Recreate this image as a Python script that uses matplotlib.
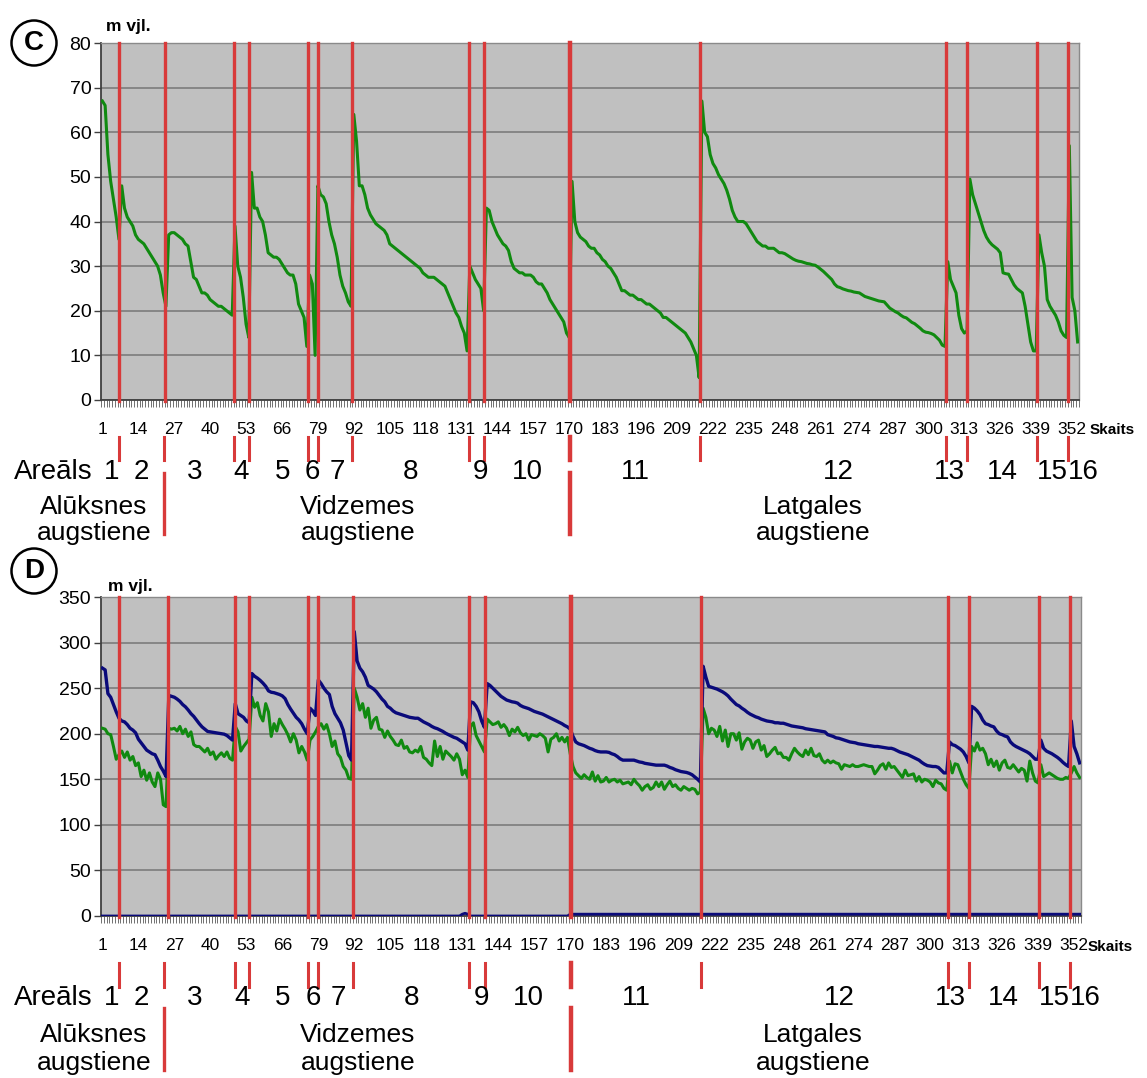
import numpy as np
import matplotlib
matplotlib.use("Agg")
import matplotlib.pyplot as plt
from matplotlib import font_manager
from matplotlib.patches import Ellipse
from matplotlib.transforms import blended_transform_factory

# ---------------------------------------------------------------- data
# Profile points are numbered 1..354 ("Skaits"); areas are separated by red lines.
N_POINTS = 354
TICK_LABELS = [str(v) for v in range(1, 353, 13)]

# Panel C: relative height (m vjl.) per point
C_HEIGHT = [
    67, 66, 55, 49, 45, 41, 36,
    48, 43, 41, 40, 39, 37, 36, 35.5, 35, 34, 33, 32, 31, 30, 28, 24, 21,
    37, 37.5, 37.5, 37, 36.5, 36, 35, 34.5, 31, 27.5, 27, 25.5, 24, 24, 23.5, 22.5,
    22, 21.5, 21, 21, 20.5, 20, 19.5, 19,
    39, 30, 27.5, 23, 17, 14,
    51, 43, 43, 41, 40, 37, 33, 32.5, 32, 32, 31.5, 30.5, 29.5, 28.5, 28, 28, 26,
    21.5, 20, 18.5, 12,
    28, 26, 10,
    48, 46, 45.5, 44, 40, 37, 35, 32, 28, 25.5, 24, 22, 21,
    64, 58, 48, 48, 46, 43, 41.5, 40.5, 39.5, 39,
    38.5, 38, 37, 35, 34.5, 34, 33.5, 33, 32.5, 32,
    31.5, 31, 30.5, 30, 29.5, 28.5, 28, 27.5, 27.5, 27.5,
    27, 26.5, 26, 25.5, 24, 22.5, 21, 19.5, 18.5, 16.5,
    15, 11,
    30, 28.5, 27, 26, 25, 20,
    43, 42.5, 40, 38.5, 37, 36, 35, 34.5, 33.5, 31,
    29.5, 29, 28.5, 28.5, 28, 28, 28, 27.5, 26.5, 26,
    26, 25, 24, 22.5, 21.5, 20.5, 19.5, 18.5, 17.5, 15, 14,
    49, 40, 37.5, 36.5, 36, 35.5, 34.5, 34, 34, 33,
    32.5, 31.5, 31, 30, 29.5, 28.5, 27.5, 26, 24.5, 24.5,
    24, 23.5, 23.5, 23, 22.5, 22.5, 22, 21.5, 21.5, 21,
    20.5, 20, 19.5, 18.5, 18.5, 18, 17.5, 17, 16.5, 16,
    15.5, 15, 14, 13, 11.5, 10, 5,
    67, 60, 59, 55, 53, 52, 50.5, 49.5, 48.5, 47,
    45, 42.5, 41, 40, 40, 40, 39.5, 38.5, 37.5, 36.5,
    35.5, 35, 34.5, 34.5, 34, 34, 34, 33.5, 33, 33,
    32.8, 32.4, 32, 31.6, 31.3, 31.1, 31, 30.8, 30.6, 30.5,
    30.3, 30.2, 29.8, 29.3, 28.8, 28.2, 27.6, 27, 26, 25.4,
    25.2, 24.9, 24.7, 24.5, 24.4, 24.2, 24.1, 24, 23.6, 23.2,
    23, 22.8, 22.6, 22.4, 22.2, 22.1, 22, 21.3, 20.6, 20.2,
    19.8, 19.5, 19, 18.6, 18.4, 17.9, 17.4, 17.1, 16.6, 16.1,
    15.5, 15.2, 15.1, 14.9, 14.6, 14, 13.4, 12.3, 12,
    31, 27, 25.5, 24, 19, 16, 15, 15.5,
    49.5, 46, 44, 42, 40, 38, 36.5, 35.5, 34.8, 34.3, 33.8, 33, 28.5, 28.3, 28.2,
    27, 25.8, 25, 24.5, 24, 21, 17, 13, 11, 11,
    37, 33, 30, 22.5, 21, 20, 19, 17.5, 15.5, 14.5, 14,
    57, 23, 20, 13,
]

# Panel D: upper surface (m vjl.)
D_UPPER = [
    272, 270, 244, 240, 232, 224, 217,
    214, 213, 210, 206, 204, 201, 194, 190, 186, 182, 180, 178, 177, 171, 164, 159, 153,
    242, 241, 240, 238, 235.5, 232, 229.5, 226, 222, 219, 215, 211, 207.5, 205, 202.5,
    202, 201.5, 201, 200.5, 200, 199.5, 198, 195.5, 193,
    233, 222, 220, 218, 214, 212,
    266, 263, 261, 258.5, 255.5, 252, 247, 245.5, 245, 244, 243, 241.5, 238.5, 232,
    227, 222.5, 218, 215, 211, 205, 200,
    228, 225, 220,
    259, 255, 250, 246, 243, 230, 222, 217, 212, 204, 190, 176, 171,
    312, 280, 272, 268, 262, 253, 251, 249, 246, 242,
    238, 235, 230, 228, 225, 223, 222, 221, 220, 219,
    218, 217.5, 217, 217, 215, 213, 211.5, 210, 208, 206.5,
    205.5, 204, 202.5, 200.5, 199, 197.5, 196, 195, 193, 191,
    189, 182,
    235, 234, 230, 224, 214, 207,
    255, 253, 250, 247, 244, 241, 239, 237, 236, 235,
    234.5, 233.5, 231, 229.5, 228.5, 227.5, 226, 224.5, 223.5, 222.5,
    221.5, 220, 218.5, 217, 215.5, 214, 212.5, 211, 209, 207.5, 205,
    197, 191, 189, 188, 187, 185.5, 184, 183, 181.5, 180.5,
    180, 180, 180, 179.5, 178, 177, 175, 172.5, 171, 171,
    171, 171, 171, 170, 169, 168.5, 167.5, 167, 166.5, 166,
    165.5, 165.5, 165.5, 165.5, 164.5, 163, 162, 160.5, 159.5, 158.5,
    158, 157.5, 156.5, 155, 152.5, 150, 147,
    274, 262, 252, 251, 250, 249, 247.5, 246, 244, 241.5,
    238, 235, 232, 230.5, 228, 226, 223.5, 221.5, 220, 218.5,
    217.5, 216, 215, 214, 213.5, 213, 212, 212, 211.5, 211.5,
    210.5, 209.5, 208.5, 208, 207.5, 207, 206.5, 205.5, 205, 204.5,
    204, 203.5, 203, 202.5, 202, 199, 198, 197, 195.5, 195,
    194, 193, 192, 191, 190.5, 190, 189, 188.5, 188, 187.5,
    187, 186.5, 186, 186, 185.5, 185, 184.5, 184, 184, 183,
    181.5, 180, 179, 178, 177, 175.5, 174, 172.5, 171, 168.5,
    166.5, 165, 164.5, 164, 164, 163, 160, 157, 157,
    191, 188, 187, 185, 183, 180, 175, 168,
    230, 228, 225, 221, 215, 211, 210, 208.5, 207.5, 203, 200, 199, 197.5, 196.5,
    191, 188, 186, 184.5, 183, 181.5, 180, 178, 175, 172, 172,
    193, 184, 181, 179.5, 178, 176, 174, 171.5, 168.5, 166, 164,
    214, 186, 178, 168,
]

# Panel D: lower surface (m vjl.)
D_LOWER = [
    206, 205, 200, 199, 186, 172, 177,
    181, 174, 180, 171, 175, 165, 168, 153, 160, 149, 157, 147, 142, 157, 150, 122, 120,
    206, 205, 206, 203, 208, 200, 205, 197, 202, 188, 186, 186, 183, 180, 184, 177,
    180, 172, 176, 179, 175, 180, 173, 171,
    208, 202, 181, 186, 190, 194,
    240, 229, 234, 220, 214, 233, 224, 197, 211, 203, 216, 210, 205, 199, 191, 200,
    193, 179, 186, 180, 171,
    193, 197, 202,
    208, 211, 205, 210, 200, 186, 192, 178, 174, 164, 160, 151, 150,
    250, 240, 226, 233, 218, 228, 206, 215, 218, 205,
    204, 196, 203, 197, 193, 188, 187, 193, 184, 186,
    180, 179, 182, 180, 186, 174, 172, 168, 165, 192,
    175, 186, 172, 181, 178, 175, 171, 178, 172, 155,
    160, 152,
    208, 212, 198, 192, 186, 180,
    216, 213, 210, 211, 213, 207, 210, 206, 198, 205,
    202, 207, 201, 198, 200, 193, 199, 198, 197, 200,
    198, 195, 180, 194, 196, 200, 192, 196, 191, 196, 178,
    164, 157, 154, 151, 155, 152, 150, 158, 148, 154,
    147, 148, 152, 147, 149, 150, 147, 149, 145, 146,
    147, 144, 150, 146, 143, 138, 142, 144, 139, 141,
    147, 142, 147, 139, 144, 148, 142, 144, 140, 138,
    142, 140, 138, 140, 139, 134, 136,
    228, 218, 200, 206, 204, 197, 208, 192, 204, 186,
    200, 200, 193, 201, 183, 191, 195, 193, 184, 191,
    193, 182, 187, 175, 178, 182, 185, 178, 179, 174,
    174, 171, 178, 184, 180, 177, 175, 182, 177, 184,
    176, 175, 178, 171, 168, 171, 168, 170, 168, 167,
    161, 166, 165, 164, 166, 164, 164, 165, 166, 165,
    164, 164, 156, 160, 165, 167, 161, 168, 163, 164,
    160, 156, 152, 160, 154, 155, 156, 148, 153, 147,
    150, 149, 147, 142, 149, 146, 145, 140, 138,
    170, 157, 167, 166, 158, 150, 144, 140,
    186, 181, 190, 182, 184, 178, 166, 172, 164, 170, 160, 168, 171, 163, 162,
    166, 162, 158, 162, 160, 148, 170, 157, 148, 146,
    166, 153, 155, 157, 155, 153, 151, 150, 150, 152, 151,
    157, 164, 157, 152,
]

# Panel D: near-zero base series, stored as (value, run length)
D_BASE_RUNS = [(0, 130), (2, 1), (3, 1), (2, 1), (0, 36), (2, 185)]

# Red separators between areas (point-number coordinates)
C_EDGES = [7.1, 23.6, 48.8, 54.0, 75.4, 78.9, 91.5, 133.6, 139.3, 170.3,
           217.2, 306.4, 314.0, 339.2, 350.4]
D_EDGES = [7.1, 24.6, 48.8, 54.0, 75.4, 78.9, 91.5, 133.6, 139.3, 170.3,
           217.2, 306.4, 314.0, 339.2, 350.4]
TICK_EDGES = [7.1, 23.3, 48.8, 54.0, 75.4, 78.9, 91.5, 133.6, 139.3, 170.3,
              217.2, 306.4, 314.0, 339.2, 350.4]
REGION_EDGES = [23.3, 170.3]
AREA_NAMES = [str(i) for i in range(1, 17)]
REGION_NAMES = [("Alūksnes", "augstiene"), ("Vidzemes", "augstiene"),
                ("Latgales", "augstiene")]

# ---------------------------------------------------------------- layout
W, H, DPI = 1147, 1078, 100
plt.rcParams["font.family"] = ["Liberation Sans", "DejaVu Sans"]
fig = plt.figure(figsize=(W / DPI, H / DPI), dpi=DPI)

_installed = {f.name for f in font_manager.fontManager.ttflist}
if "Liberation Sans Narrow" in _installed:
    TICK_FAMILY, TICK_SIZE = ["Liberation Sans Narrow", "DejaVu Sans"], 13
else:
    TICK_FAMILY, TICK_SIZE = ["Liberation Sans", "DejaVu Sans"], 12.5

GRAY_BG = "#c0c0c0"
GRID = "#7c7c7c"
GREEN = "#108a10"
NAVY = "#0a0a7a"
RED = "#d83a3a"

cats = np.arange(1, N_POINTS + 1)
base = np.concatenate([np.full(n, v, dtype=float) for v, n in D_BASE_RUNS])


def fy(py):
    return 1 - py / H


def panel(top, bottom, left=101, right=1079):
    return fig.add_axes([left / W, fy(bottom), (right - left) / W, (bottom - top) / H])


def style_axes(ax, ymax, ystep):
    ax.set_facecolor(GRAY_BG)
    ax.set_xlim(0.5, N_POINTS + 0.5)
    ax.set_ylim(0, ymax)
    ax.set_yticks(np.arange(0, ymax + 1, ystep))
    ax.yaxis.grid(True, color=GRID, lw=1.2)
    ax.set_axisbelow(True)
    ax.set_xticks(np.arange(1, 353, 13))
    ax.set_xticklabels(TICK_LABELS, fontsize=TICK_SIZE, family=TICK_FAMILY)
    ax.set_xticks(np.arange(0.5, N_POINTS + 1, 1), minor=True)
    ax.tick_params(axis="x", which="major", length=0, pad=16)
    ax.tick_params(axis="x", which="minor", length=5, width=0.6, color="#5a5a5a")
    ax.tick_params(axis="y", which="major", length=5, width=1, color="#404040",
                   labelsize=14, pad=2)
    for s in ("left", "bottom"):
        ax.spines[s].set_color("#404040")
        ax.spines[s].set_linewidth(1.3)
    for s in ("top", "right"):
        ax.spines[s].set_color("#8a8a8a")
        ax.spines[s].set_linewidth(1.0)


def separators(ax, edges):
    for i, e in enumerate(edges):
        lw = 3.2 if i == 9 else 2.4
        ax.axvline(e, ymin=-0.004, ymax=1.0, color=RED, lw=lw, zorder=5, clip_on=False)


def lower_annotations(ax, tick_y, row_y, name_y, region_line_y):
    tr = blended_transform_factory(ax.transData, fig.transFigure)
    for i, e in enumerate(TICK_EDGES):
        lw = 3.2 if i == 9 else 2.2
        ax.plot([e, e], [fy(tick_y[0]), fy(tick_y[1])], color=RED, lw=lw,
                transform=tr, clip_on=False)
    for e in REGION_EDGES:
        lw = 3.2 if e > 100 else 2.4
        ax.plot([e, e], [fy(region_line_y[0]), fy(region_line_y[1])], color=RED,
                lw=lw, transform=tr, clip_on=False)
    fig.text(93 / W, fy(row_y), "Areāls", fontsize=20, ha="right", va="center")
    bounds = [0.5] + TICK_EDGES + [N_POINTS + 0.5]
    mids = [(a + b) / 2 for a, b in zip(bounds[:-1], bounds[1:])]
    nudge = {0: 0.6, 2: -1.8, 4: 1.5, 6: 1.0, 8: 1.5, 11: 5.5, 12: -2.8, 14: 0.0, 15: 3.5}
    for i, name in enumerate(AREA_NAMES):
        ax.text(mids[i] + nudge.get(i, 0.0), fy(row_y), name, transform=tr,
                fontsize=20, ha="center", va="center", clip_on=False)
    region_x = [94, 358, 813]
    for (l1, l2), x in zip(REGION_NAMES, region_x):
        fig.text(x / W, fy(name_y[0]), l1, fontsize=19, ha="center", va="center")
        fig.text(x / W, fy(name_y[1]), l2, fontsize=19, ha="center", va="center")


def badge(cx, cy, letter, unit_x, unit_y):
    r = 22.5
    fig.patches.append(Ellipse((cx / W, fy(cy)), 2 * r / W, 2 * r / H,
                               transform=fig.transFigure, fill=False,
                               lw=1.8, edgecolor="black"))
    fig.text(cx / W, fy(cy), letter, fontsize=20, fontweight="bold",
             ha="center", va="center")
    fig.text(unit_x / W, fy(unit_y), "m vjl.", fontsize=12.5, fontweight="bold",
             ha="center", va="center")


# ---------------------------------------------------------------- panel C
axC = panel(43, 400)
style_axes(axC, 80, 10)
axC.plot(cats, C_HEIGHT, color=GREEN, lw=2.2, zorder=4)
separators(axC, C_EDGES)
lower_annotations(axC, (437, 460), 472, (507, 533), (473, 534))
fig.text(1090 / W, fy(430), "Skaits", fontsize=11, fontweight="bold", ha="left", va="center")
badge(34, 43, "C", 128, 27)

# ---------------------------------------------------------------- panel D
axD = panel(597, 916, right=1081)
style_axes(axD, 350, 50)
axD.plot(cats, base, color=NAVY, lw=2.0, zorder=4)
axD.plot(cats, D_LOWER, color=GREEN, lw=2.2, zorder=4)
axD.plot(cats, D_UPPER, color=NAVY, lw=2.4, zorder=4)
separators(axD, D_EDGES)
lower_annotations(axD, (963, 987), 998, (1035, 1063), (1008, 1070))
fig.text(1088 / W, fy(947), "Skaits", fontsize=11, fontweight="bold", ha="left", va="center")
badge(34, 571, "D", 130, 587)

fig.savefig("out.png", dpi=DPI)
